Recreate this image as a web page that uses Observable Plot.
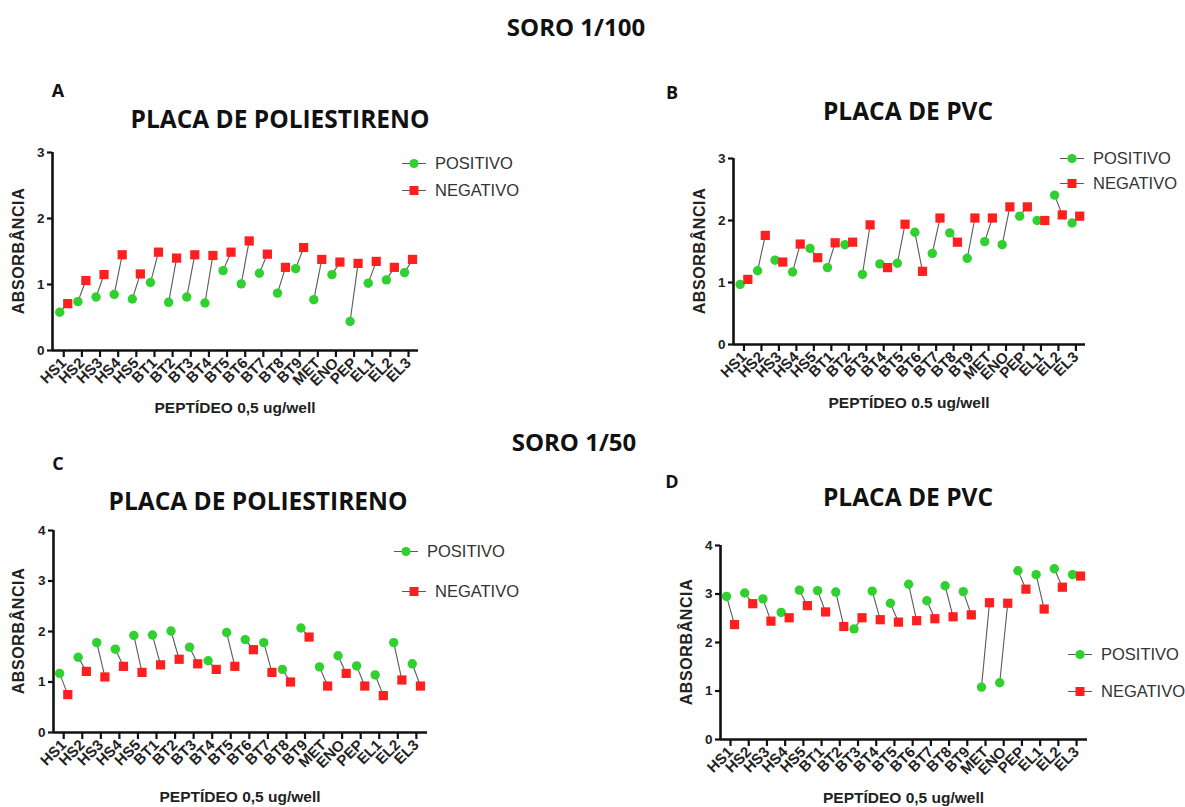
<!DOCTYPE html>
<html><head><meta charset="utf-8">
<script src="https://cdn.jsdelivr.net/npm/d3@7"></script>
<script src="https://cdn.jsdelivr.net/npm/@observablehq/plot@0.6"></script>
<style>
body{margin:0;background:#fff;}
#root{position:relative;width:1185px;height:807px;overflow:hidden;background:#fff;font-family:"Liberation Sans",Arial,sans-serif;}
.abs{position:absolute;white-space:nowrap;}
.ttl{font-family:"Open Sans",sans-serif;font-weight:700;color:#111;transform:translate(-50%,-50%);line-height:1;}
.axl{font-family:"Liberation Sans",Arial,sans-serif;font-weight:700;color:#222;font-size:15.5px;transform:translate(-50%,-50%);line-height:1;}
.ayl{font-family:"Liberation Sans",Arial,sans-serif;font-weight:700;color:#222;font-size:16px;letter-spacing:0.6px;transform:translate(-50%,-50%) rotate(-90deg);line-height:1;}
.leg{font-family:"Liberation Sans",Arial,sans-serif;font-size:16.5px;color:#333;display:flex;align-items:center;transform:translateY(-50%);}
.leg svg{margin-right:9px;}
svg text{font-family:"Liberation Sans",Arial,sans-serif;}
</style>
</head><body><div id="root"></div>
<script>
const categories = ["HS1","HS2","HS3","HS4","HS5","BT1","BT2","BT3","BT4","BT5","BT6","BT7","BT8","BT9","MET","ENO","PEP","EL1","EL2","EL3"];

// Panel A: soro 1/100, placa de poliestireno
const posA = [0.58,0.74,0.81,0.85,0.78,1.03,0.73,0.81,0.72,1.21,1.01,1.17,0.87,1.24,0.77,1.15,0.44,1.02,1.07,1.18];
const negA = [0.71,1.06,1.15,1.45,1.16,1.49,1.40,1.45,1.44,1.49,1.66,1.46,1.26,1.56,1.38,1.34,1.32,1.35,1.26,1.38];
// Panel B: soro 1/100, placa de PVC
const posB = [0.97,1.19,1.36,1.17,1.55,1.24,1.61,1.13,1.30,1.31,1.81,1.47,1.80,1.39,1.66,1.61,2.07,2.00,2.41,1.96];
const negB = [1.05,1.76,1.33,1.62,1.40,1.64,1.65,1.93,1.24,1.94,1.18,2.04,1.65,2.04,2.04,2.22,2.22,2.00,2.09,2.07];
// Panel C: soro 1/50, placa de poliestireno
const posC = [1.17,1.49,1.78,1.65,1.92,1.93,2.01,1.69,1.42,1.98,1.84,1.78,1.25,2.07,1.30,1.52,1.32,1.14,1.78,1.36];
const negC = [0.75,1.21,1.10,1.31,1.19,1.34,1.45,1.36,1.25,1.31,1.64,1.19,1.00,1.89,0.92,1.17,0.92,0.73,1.04,0.92];
// Panel D: soro 1/50, placa de PVC
const posD = [2.95,3.02,2.90,2.62,3.08,3.07,3.04,2.28,3.06,2.81,3.20,2.86,3.17,3.05,1.08,1.17,3.48,3.40,3.52,3.40];
const negD = [2.37,2.80,2.44,2.51,2.76,2.63,2.33,2.51,2.47,2.42,2.45,2.49,2.53,2.57,2.82,2.81,3.10,2.69,3.14,3.37];

const seriesNames = ["POSITIVO","NEGATIVO"];
const GREEN = "#30d030", RED = "#ff1f1f", LINK = "#5a5a5a";
const root = document.getElementById("root");

function addText(cls, text, x, y, extra) {
  const d = document.createElement("div");
  d.className = "abs " + cls;
  d.textContent = text;
  d.style.left = x + "px"; d.style.top = y + "px";
  if (extra) Object.assign(d.style, extra);
  root.appendChild(d);
  return d;
}

function legendItem(name, x, y) {
  const d = document.createElement("div");
  d.className = "abs leg";
  d.style.left = x + "px"; d.style.top = y + "px";
  const isPos = name === seriesNames[0];
  const mk = isPos
    ? `<circle cx="12" cy="6" r="4.6" fill="${GREEN}"/>`
    : `<rect x="7.5" y="1.5" width="9" height="9" fill="${RED}"/>`;
  d.innerHTML = `<svg width="24" height="12"><line x1="0" x2="24" y1="6" y2="6" stroke="${LINK}" stroke-width="1.2"/>${mk}</svg><span>${name}</span>`;
  root.appendChild(d);
}

function panel(cfg) {
  const rows = categories.map((c, i) => ({i, c, pos: cfg.pos[i], neg: cfg.neg[i]}));
  const off = 0.22;
  const dom = cfg.dom;
  const chart = Plot.plot({
    width: cfg.W, height: cfg.H,
    marginLeft: cfg.mL, marginRight: cfg.mR, marginTop: cfg.mT, marginBottom: cfg.mB,
    style: {fontFamily: "Liberation Sans, Arial, sans-serif", background: "transparent", color: "#222"},
    x: {type: "linear", domain: dom},
    y: {domain: [0, cfg.yMax]},
    marks: [
      Plot.ruleY([0], {stroke: "#111", strokeWidth: 2.6}),
      Plot.ruleX([dom[0]], {stroke: "#111", strokeWidth: 2.6}),
      Plot.axisY({ticks: d3.range(0, cfg.yMax + 1), tickFormat: d3.format("d"), tickSize: 5, tickPadding: 3,
        label: null, fontSize: 13.5, fontWeight: "bold", strokeWidth: 2.2, stroke: "#111"}),
      Plot.axisX({ticks: d3.range(categories.length), tickFormat: i => categories[i], tickRotate: -45,
        tickSize: 7, tickPadding: 3, label: null, fontSize: 15, fontWeight: "bold", strokeWidth: 2.2, stroke: "#111"}),
      Plot.link(rows, {x1: d => d.i - off, y1: "pos", x2: d => d.i + off, y2: "neg", stroke: LINK, strokeWidth: 1.1}),
      Plot.dot(rows, {x: d => d.i - off, y: "pos", r: 4.7, fill: GREEN, symbol: "circle"}),
      Plot.dot(rows, {x: d => d.i + off, y: "neg", r: 5.2, fill: RED, symbol: "square"})
    ]
  });
  chart.style.position = "absolute";
  chart.style.left = cfg.left + "px";
  chart.style.top = cfg.top + "px";
  root.appendChild(chart);
  // axis titles
  const fx0 = cfg.left + cfg.mL, fx1 = cfg.left + cfg.W - cfg.mR;
  const fy0 = cfg.top + cfg.mT, fy1 = cfg.top + cfg.H - cfg.mB;
  addText("ayl", "ABSORBÂNCIA", cfg.yLabelX, (fy0 + fy1) / 2);
  addText("axl", cfg.xLabel, (fx0 + fx1) / 2, cfg.xLabelY);
  legendItem(seriesNames[0], cfg.legX, cfg.legY0);
  legendItem(seriesNames[1], cfg.legX2 ?? cfg.legX, cfg.legY1);
}

// Titles
addText("ttl", "SORO 1/100", 576, 27, {fontSize: "24px"});
addText("ttl", "SORO 1/50", 574, 442, {fontSize: "24px"});
addText("ttl", "A", 58, 90, {fontSize: "18px"});
addText("ttl", "B", 672, 92, {fontSize: "18px"});
addText("ttl", "C", 58, 463, {fontSize: "18px"});
addText("ttl", "D", 672, 481, {fontSize: "18px"});
addText("ttl", "PLACA DE POLIESTIRENO", 280, 119, {fontSize: "24.5px"});
addText("ttl", "PLACA DE PVC", 908, 111, {fontSize: "24.5px"});
addText("ttl", "PLACA DE POLIESTIRENO", 258, 501, {fontSize: "24.5px"});
addText("ttl", "PLACA DE PVC", 908, 497, {fontSize: "24.5px"});

panel({pos: posA, neg: negA, yMax: 3, left: 0, top: 140, W: 560, H: 280, mL: 52, mR: 142, mT: 12, mB: 70, dom: [-0.62, 19.55],
  yLabelX: 19, xLabel: "PEPTÍDEO 0,5 ug/well", xLabelY: 408, legX: 402, legY0: 163, legY1: 190});
panel({pos: posB, neg: negB, yMax: 3, left: 640, top: 140, W: 545, H: 280, mL: 93, mR: 100, mT: 18, mB: 76, dom: [-0.6, 19.55],
  yLabelX: 700, xLabel: "PEPTÍDEO 0.5 ug/well", xLabelY: 403, legX: 1060, legY0: 158, legY1: 183});
panel({pos: posC, neg: negC, yMax: 4, left: 0, top: 515, W: 560, H: 292, mL: 53, mR: 133, mT: 15, mB: 75, dom: [-0.55, 19.6],
  yLabelX: 19, xLabel: "PEPTÍDEO 0,5 ug/well", xLabelY: 797, legX: 394, legX2: 402, legY0: 551, legY1: 591});
panel({pos: posD, neg: negD, yMax: 4, left: 640, top: 530, W: 545, H: 277, mL: 80, mR: 98, mT: 15, mB: 68, dom: [-0.55, 19.6],
  yLabelX: 687, xLabel: "PEPTÍDEO 0,5 ug/well", xLabelY: 798, legX: 1068, legY0: 654, legY1: 691});
</script>
</body></html>
